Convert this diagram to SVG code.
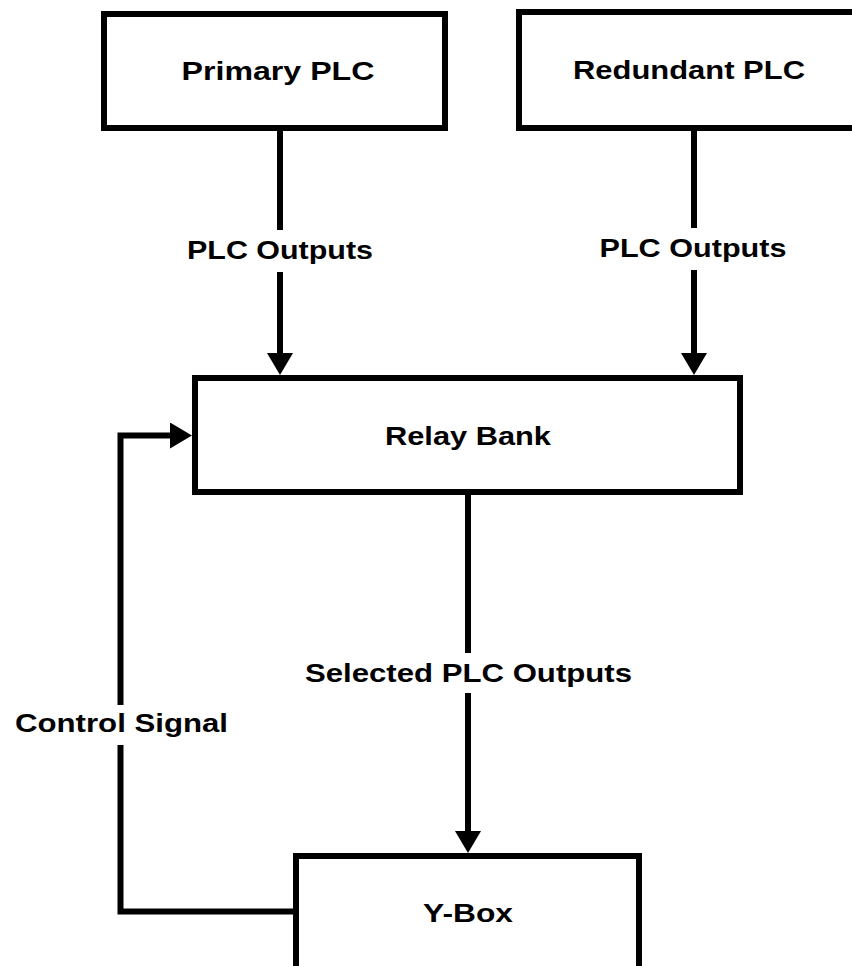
<svg xmlns="http://www.w3.org/2000/svg" width="852" height="966" viewBox="0 0 852 966">
<style>
.box{fill:#fff;stroke:#000;stroke-width:6}
.lbl{font-family:"Liberation Sans",Arial,sans-serif;font-weight:bold;font-size:26px;fill:#000;text-anchor:middle}
.wire{fill:none;stroke:#000;stroke-width:6;stroke-linejoin:miter}
</style>
<defs>
<marker id="ah" markerUnits="userSpaceOnUse" markerWidth="24" markerHeight="28" refX="0" refY="13" orient="auto" viewBox="0 0 24 28">
<path d="M0,0 L22,13 L0,26 z" fill="#000"/>
</marker>
</defs>
<rect width="852" height="966" fill="#fff"/>
<g id="primary-plc">
<rect class="box" x="104" y="14" width="341" height="114"/>
<text class="lbl" x="278" y="80" textLength="193" lengthAdjust="spacingAndGlyphs">Primary PLC</text>
</g>
<g id="redundant-plc">
<rect class="box" x="519" y="12" width="400" height="116"/>
<text class="lbl" x="689" y="79" textLength="232" lengthAdjust="spacingAndGlyphs">Redundant PLC</text>
</g>
<g id="relay-bank">
<rect class="box" x="195" y="378" width="545" height="114"/>
<text class="lbl" x="468" y="445" textLength="166" lengthAdjust="spacingAndGlyphs">Relay Bank</text>
</g>
<g id="y-box">
<rect class="box" x="296" y="856" width="343" height="200"/>
<text class="lbl" x="468" y="922" textLength="90" lengthAdjust="spacingAndGlyphs">Y-Box</text>
</g>
<g id="connectors">
<path class="wire" d="M280,131 V230 M280,272 V353" marker-end="url(#ah)"/>
<text class="lbl" x="280" y="259" textLength="186" lengthAdjust="spacingAndGlyphs">PLC Outputs</text>
<path class="wire" d="M694,131 V228 M694,270 V353" marker-end="url(#ah)"/>
<text class="lbl" x="693" y="257" textLength="187" lengthAdjust="spacingAndGlyphs">PLC Outputs</text>
<path class="wire" d="M468,495 V653 M468,693 V831" marker-end="url(#ah)"/>
<text class="lbl" x="468.5" y="682" textLength="327" lengthAdjust="spacingAndGlyphs">Selected PLC Outputs</text>
<path class="wire" d="M296,911.5 H120.5 V745 M120.5,705 V435.5 H170" marker-end="url(#ah)"/>
<text class="lbl" x="121.5" y="732" textLength="213" lengthAdjust="spacingAndGlyphs">Control Signal</text>
</g>
</svg>
